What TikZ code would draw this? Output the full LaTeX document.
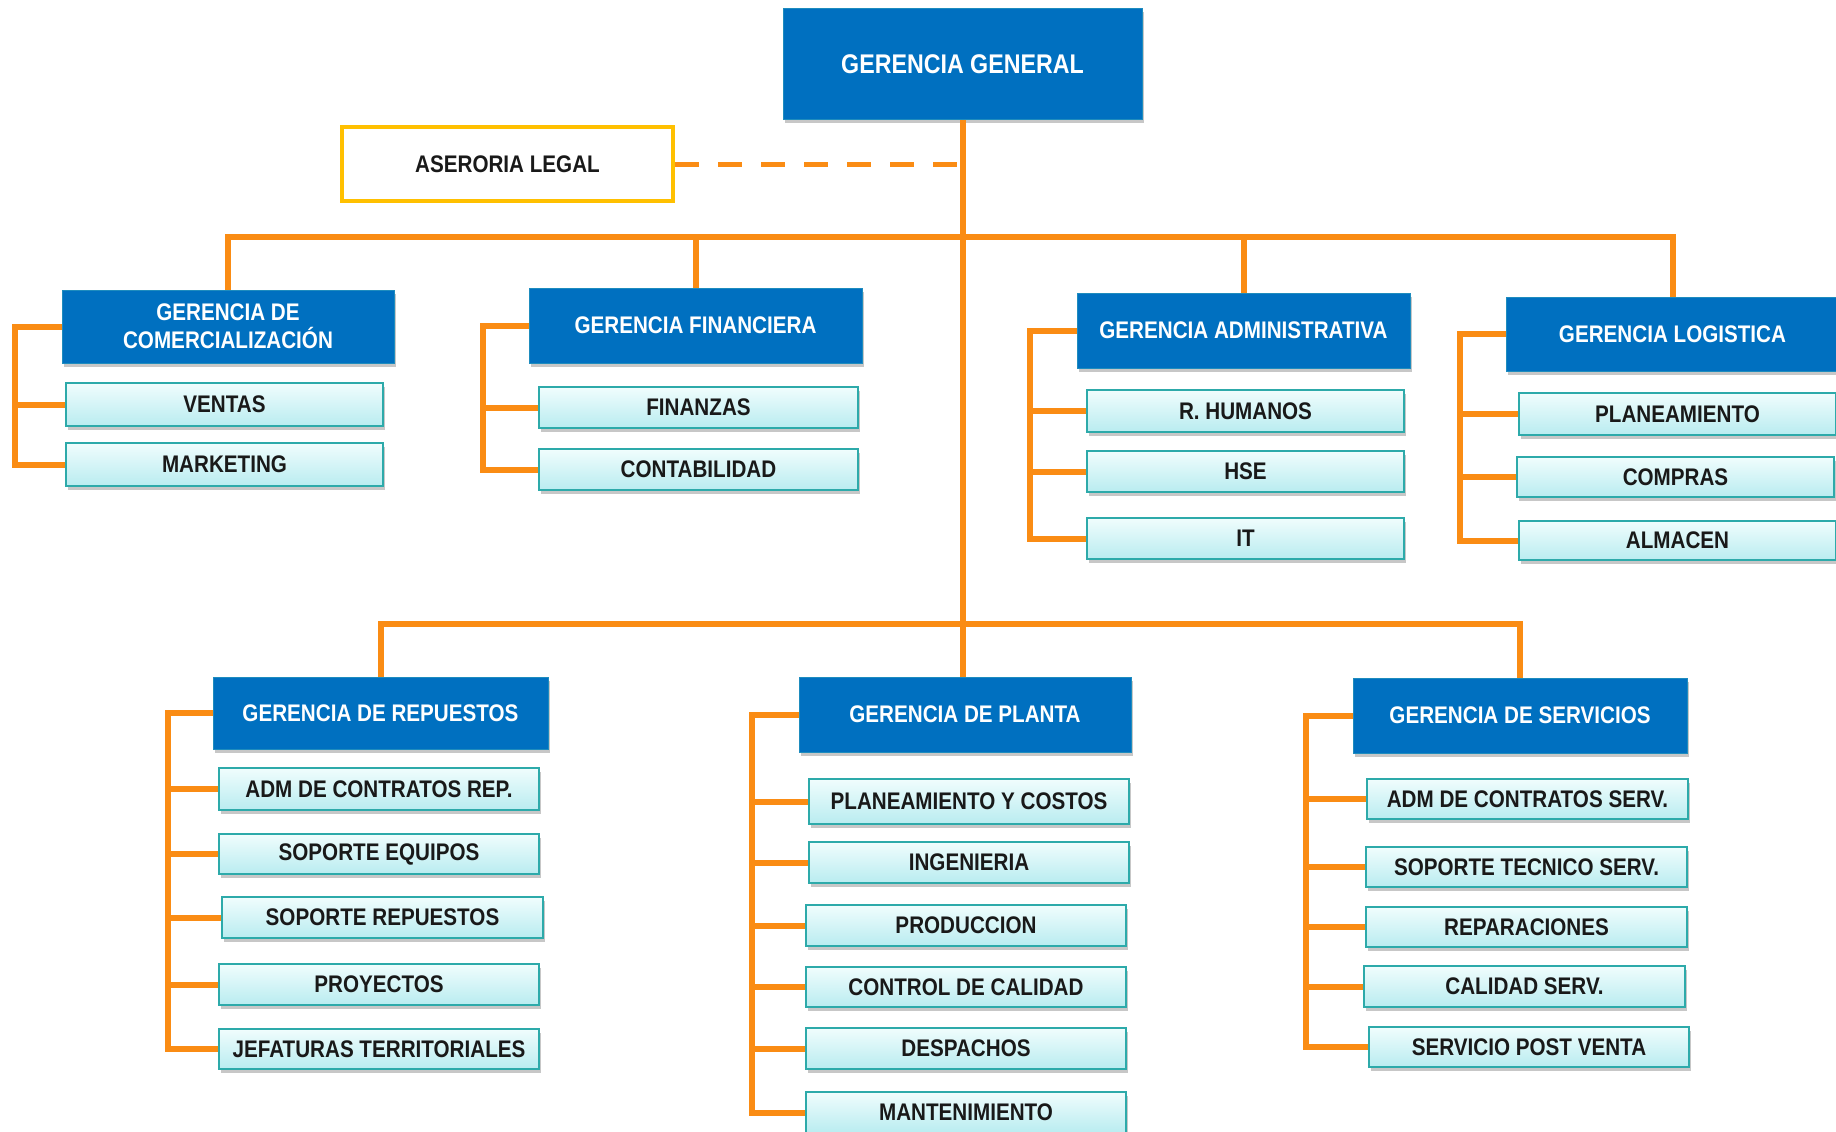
\documentclass[tikz,border=0pt]{standalone}
\usepackage{fontspec}
\newfontfamily\narrowfont{Liberation Sans}[FakeStretch=0.86]
\usetikzlibrary{shadows}
\definecolor{orgline}{RGB}{250,140,20}
\definecolor{mgrblue}{RGB}{0,112,192}
\definecolor{mgredge}{RGB}{30,140,190}
\definecolor{subedge}{RGB}{45,170,170}
\definecolor{subtop}{RGB}{240,253,253}
\definecolor{subbot}{RGB}{185,236,240}
\definecolor{legalyel}{RGB}{255,192,0}
\definecolor{txtdark}{RGB}{25,25,25}
\begin{document}
\begin{tikzpicture}[x=1pt,y=-1pt,
  conn/.style={draw=orgline, line width=6pt, line join=miter},
  shad/.style={drop shadow={shadow xshift=1.5pt, shadow yshift=-3.5pt, fill=black, opacity=0.22}},
  mgr/.style={shad, draw=mgredge, line width=1pt, fill=mgrblue, text=white,
    font=\narrowfont\bfseries\fontsize{24}{28}\selectfont, align=center, inner sep=0pt,
    minimum width=333pt, minimum height=75pt},
  subbox/.style={shad, draw=subedge, line width=1.6pt, top color=subtop, bottom color=subbot,
    text=txtdark, font=\narrowfont\bfseries\fontsize{24}{28}\selectfont, inner sep=0pt,
    minimum width=319pt, minimum height=42pt},
]
\useasboundingbox (0,0) rectangle (1836,1132);
\fill[white] (0,0) rectangle (1836,1132);

% top
\node[mgr, minimum width=359pt, minimum height=110pt, font=\narrowfont\bfseries\fontsize{27}{30}\selectfont] (GG) at (962.5,64) {GERENCIA GENERAL};
\node[draw=legalyel, line width=4pt, fill=white, text=txtdark, inner sep=0pt,
  minimum width=331pt, minimum height=74pt,
  font=\narrowfont\bfseries\fontsize{24}{28}\selectfont] (AL) at (507.5,164) {ASERORIA LEGAL};

% row 1 managers
\node[mgr, minimum width=332pt, minimum height=73pt] (COM) at (228,326.5) {GERENCIA DE\\COMERCIALIZACIÓN};
\node[mgr] (FIN) at (695.5,325.5) {GERENCIA FINANCIERA};
\node[mgr] (ADM) at (1243.5,330.5) {GERENCIA ADMINISTRATIVA};
\node[mgr, minimum height=74pt] (LOG) at (1672.5,334) {GERENCIA LOGISTICA};

% row 1 subs
\node[subbox, minimum width=317pt, minimum height=43pt] (VEN) at (224.5,404.5) {VENTAS};
\node[subbox, minimum width=317pt, minimum height=43pt] (MKT) at (224.5,464.5) {MARKETING};
\node[subbox, minimum height=41pt] (FNZ) at (698.5,407.5) {FINANZAS};
\node[subbox, minimum height=41pt] (CON) at (698.5,469.5) {CONTABILIDAD};
\node[subbox, minimum width=317pt] (RH) at (1245.5,411) {R. HUMANOS};
\node[subbox, minimum width=317pt, minimum height=41pt] (HSE) at (1245.5,471.5) {HSE};
\node[subbox, minimum width=317pt, minimum height=41pt] (IT) at (1245.5,538.5) {IT};
\node[subbox, minimum width=317pt] (PLA) at (1677.5,414) {PLANEAMIENTO};
\node[subbox, minimum width=317pt, minimum height=40pt] (COMP) at (1675.5,477) {COMPRAS};
\node[subbox, minimum width=317pt, minimum height=39pt] (ALM) at (1677.5,540.5) {ALMACEN};

% row 2 managers
\node[mgr, minimum width=335pt, minimum height=72pt] (REP) at (380.5,713) {GERENCIA DE REPUESTOS};
\node[mgr, minimum width=332pt] (PL) at (965,714.5) {GERENCIA DE PLANTA};
\node[mgr, minimum width=334pt] (SER) at (1520,715.5) {GERENCIA DE SERVICIOS};

% row 2 subs
\node[subbox, minimum width=320pt] (R1) at (379,789) {ADM DE CONTRATOS REP.};
\node[subbox, minimum width=320pt, minimum height=40pt] (R2) at (379,854) {SOPORTE EQUIPOS};
\node[subbox, minimum width=321pt, minimum height=41pt] (R3) at (382.5,917.5) {SOPORTE REPUESTOS};
\node[subbox, minimum width=320pt, minimum height=41pt] (R4) at (379,984.5) {PROYECTOS};
\node[subbox, minimum width=320pt, minimum height=40pt] (R5) at (379,1049) {JEFATURAS TERRITORIALES};

\node[subbox, minimum width=320pt, minimum height=45pt] (P1) at (969,801.5) {PLANEAMIENTO Y COSTOS};
\node[subbox, minimum width=320pt, minimum height=41pt] (P2) at (969,862.5) {INGENIERIA};
\node[subbox, minimum width=320pt, minimum height=41pt] (P3) at (966,925.5) {PRODUCCION};
\node[subbox, minimum width=320pt, minimum height=40pt] (P4) at (966,987) {CONTROL DE CALIDAD};
\node[subbox, minimum width=320pt, minimum height=41pt] (P5) at (966,1048.5) {DESPACHOS};
\node[subbox, minimum width=320pt, minimum height=41pt] (P6) at (966,1112.5) {MANTENIMIENTO};

\node[subbox, minimum width=321pt, minimum height=40pt] (S1) at (1527.5,799) {ADM DE CONTRATOS SERV.};
\node[subbox, minimum width=321pt, minimum height=40pt] (S2) at (1526.5,867) {SOPORTE TECNICO SERV.};
\node[subbox, minimum width=321pt, minimum height=40pt] (S3) at (1526.5,927) {REPARACIONES};
\node[subbox, minimum width=321pt, minimum height=41pt] (S4) at (1524.5,986.5) {CALIDAD SERV.};
\node[subbox, minimum width=320pt, minimum height=40pt] (S5) at (1529,1047) {SERVICIO POST VENTA};

% helper coordinates
\coordinate (bus1) at (0,237);
\coordinate (bus2) at (0,624);
\coordinate (bxCOM) at (15,0);
\coordinate (bxFIN) at (483,0);
\coordinate (bxADM) at (1030,0);
\coordinate (bxLOG) at (1460,0);
\coordinate (bxREP) at (168,0);
\coordinate (bxPL) at (752,0);
\coordinate (bxSER) at (1306,0);

% main trunk
\draw[conn] (GG.south) -- (GG.south |- PL.north);
\draw[conn, line width=5pt, dash pattern=on 24pt off 19pt] (AL.east) -- (AL.east -| GG.south);

% bus 1
\draw[conn] (COM.north) -- (COM.north |- bus1) -- (LOG.north |- bus1) -- (LOG.north);
\draw[conn] (FIN.north) -- (FIN.north |- bus1);
\draw[conn] (ADM.north) -- (ADM.north |- bus1);

% bus 2
\draw[conn] (REP.north) -- (REP.north |- bus2) -- (SER.north |- bus2) -- (SER.north);

% brackets row 1
\draw[conn] (COM.west) -- (COM.west -| bxCOM) -- (bxCOM |- MKT.west) -- (MKT.west);
\draw[conn] (VEN.west) -- (VEN.west -| bxCOM);
\draw[conn] (FIN.west) -- (FIN.west -| bxFIN) -- (bxFIN |- CON.west) -- (CON.west);
\draw[conn] (FNZ.west) -- (FNZ.west -| bxFIN);
\draw[conn] (ADM.west) -- (ADM.west -| bxADM) -- (bxADM |- IT.west) -- (IT.west);
\draw[conn] (RH.west) -- (RH.west -| bxADM);
\draw[conn] (HSE.west) -- (HSE.west -| bxADM);
\draw[conn] (LOG.west) -- (LOG.west -| bxLOG) -- (bxLOG |- ALM.west) -- (ALM.west);
\draw[conn] (PLA.west) -- (PLA.west -| bxLOG);
\draw[conn] (COMP.west) -- (COMP.west -| bxLOG);

% brackets row 2
\draw[conn] (REP.west) -- (REP.west -| bxREP) -- (bxREP |- R5.west) -- (R5.west);
\foreach \n in {R1,R2,R3,R4} \draw[conn] (\n.west) -- (\n.west -| bxREP);
\draw[conn] (PL.west) -- (PL.west -| bxPL) -- (bxPL |- P6.west) -- (P6.west);
\foreach \n in {P1,P2,P3,P4,P5} \draw[conn] (\n.west) -- (\n.west -| bxPL);
\draw[conn] (SER.west) -- (SER.west -| bxSER) -- (bxSER |- S5.west) -- (S5.west);
\foreach \n in {S1,S2,S3,S4} \draw[conn] (\n.west) -- (\n.west -| bxSER);
\end{tikzpicture}
\end{document}
